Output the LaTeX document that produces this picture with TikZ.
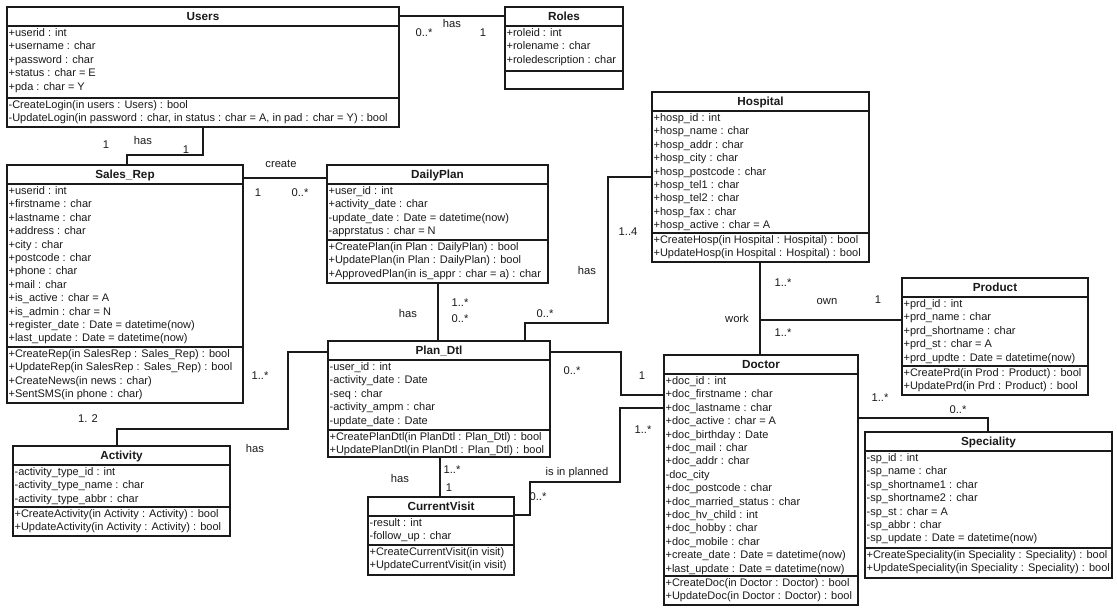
\documentclass[tikz,border=0pt]{standalone}
\usepackage{fontspec}
\setmainfont{Liberation Sans}
\usetikzlibrary{fit}
\definecolor{ink}{HTML}{1A1A1A}
\tikzset{
  px/.style={x=0.75pt,y=-0.75pt},
  classbox/.style={draw=ink, line width=1.1pt, inner sep=0pt},
  rule/.style={draw=ink, line width=1.0pt},
  classtitle/.style={font=\fontsize{8.8}{10}\selectfont\bfseries, anchor=base, inner sep=0pt, text=ink},
  members/.style={font=\fontsize{8.25}{10.05}\selectfont, align=left, anchor=north west, inner xsep=1.0pt, inner ysep=0pt, text=ink},
  assoc/.style={draw=ink, line width=1.2pt},
  lbl/.style={font=\fontsize{8.4}{10}\selectfont, inner sep=0pt, text=ink},
}
% #1 node name, #2 left, #3 right, #4 top, #5 operations rule, #6 bottom,
% #7 class name, #8 attributes, #9 operations
\newcommand\umlclass[9]{%
  \node[classbox, fit={(#2,#4) (#3,#6)}] (#1) {};
  \draw[rule] (#2,#4+19) -- (#3,#4+19);
  \draw[rule] (#2,#5) -- (#3,#5);
  \node[classtitle] (#1-title) at ({(#2+#3)/2},#4+13.8) {#7};
  \node[members] (#1-attrs) at (#2,#4+21.3) {#8};
  \node[members] (#1-ops) at (#2,#5+2.3) {#9};
}
\begin{document}
\begin{tikzpicture}[px]
\useasboundingbox[fill=white] (0,0) rectangle (1117,607);

% ---------- classes ----------
\umlclass{users}{7}{399}{7}{98}{127}{Users}
  {+userid : int\\+username : char\\+password : char\\+status : char = E\\+pda : char = Y}
  {-CreateLogin(in users : Users) : bool\\-UpdateLogin(in password : char, in status : char = A, in pad : char = Y) : bool}

\umlclass{roles}{505}{623}{7}{71}{89}{Roles}
  {+roleid : int\\+rolename : char\\+roledescription : char}
  {}

\umlclass{salesrep}{7}{243}{165}{347}{403}{Sales\_Rep}
  {+userid : int\\+firstname : char\\+lastname : char\\+address : char\\+city : char\\+postcode : char\\+phone : char\\+mail : char\\+is\_active : char = A\\+is\_admin : char = N\\+register\_date : Date = datetime(now)\\+last\_update : Date = datetime(now)}
  {+CreateRep(in SalesRep : Sales\_Rep) : bool\\+UpdateRep(in SalesRep : Sales\_Rep) : bool\\+CreateNews(in news : char)\\+SentSMS(in phone : char)}

\umlclass{dailyplan}{327}{548}{165}{240}{283}{DailyPlan}
  {+user\_id : int\\+activity\_date : char\\-update\_date : Date = datetime(now)\\-apprstatus : char = N}
  {+CreatePlan(in Plan : DailyPlan) : bool\\+UpdatePlan(in Plan : DailyPlan) : bool\\+ApprovedPlan(in is\_appr : char = a) : char}

\umlclass{hospital}{652}{869}{92}{233}{262}{Hospital}
  {+hosp\_id : int\\+hosp\_name : char\\+hosp\_addr : char\\+hosp\_city : char\\+hosp\_postcode : char\\+hosp\_tel1 : char\\+hosp\_tel2 : char\\+hosp\_fax : char\\+hosp\_active : char = A}
  {+CreateHosp(in Hospital : Hospital) : bool\\+UpdateHosp(in Hospital : Hospital) : bool}

\umlclass{product}{902}{1088}{278}{366}{395}{Product}
  {+prd\_id : int\\+prd\_name : char\\+prd\_shortname : char\\+prd\_st : char = A\\+prd\_updte : Date = datetime(now)}
  {+CreatePrd(in Prod : Product) : bool\\+UpdatePrd(in Prd : Product) : bool}

\umlclass{plandtl}{328}{550}{341}{430}{457}{Plan\_Dtl}
  {-user\_id : int\\-activity\_date : Date\\-seq : char\\-activity\_ampm : char\\-update\_date : Date}
  {+CreatePlanDtl(in PlanDtl : Plan\_Dtl) : bool\\+UpdatePlanDtl(in PlanDtl : Plan\_Dtl) : bool}

\umlclass{doctor}{664}{858}{355}{576}{605}{Doctor}
  {+doc\_id : int\\+doc\_firstname : char\\+doc\_lastname : char\\+doc\_active : char = A\\+doc\_birthday : Date\\+doc\_mail : char\\+doc\_addr : char\\-doc\_city\\+doc\_postcode : char\\+doc\_married\_status : char\\+doc\_hv\_child : int\\+doc\_hobby : char\\+doc\_mobile : char\\+create\_date : Date = datetime(now)\\+last\_update : Date = datetime(now)}
  {+CreateDoc(in Doctor : Doctor) : bool\\+UpdateDoc(in Doctor : Doctor) : bool}

\umlclass{activity}{13}{230}{446}{507}{536}{Activity}
  {-activity\_type\_id : int\\-activity\_type\_name : char\\-activity\_type\_abbr : char}
  {+CreateActivity(in Activity : Activity) : bool\\+UpdateActivity(in Activity : Activity) : bool}

\umlclass{currentvisit}{368}{514}{497}{545}{575}{CurrentVisit}
  {-result : int\\-follow\_up : char}
  {+CreateCurrentVisit(in visit)\\+UpdateCurrentVisit(in visit)}

\umlclass{speciality}{865}{1112}{432}{548}{578}{Speciality}
  {-sp\_id : int\\-sp\_name : char\\-sp\_shortname1 : char\\-sp\_shortname2 : char\\-sp\_st : char = A\\-sp\_abbr : char\\-sp\_update : Date = datetime(now)}
  {+CreateSpeciality(in Speciality : Speciality) : bool\\+UpdateSpeciality(in Speciality : Speciality) : bool}

% ---------- associations ----------
\draw[assoc] (users.east |- 0,16) -- (roles.west |- 0,16);
\draw[assoc] (users.south -| 203,0) |- (127,155) -- (salesrep.north -| 127,0);
\draw[assoc] (salesrep.east |- 0,178) -- (dailyplan.west |- 0,178);
\draw[assoc] (dailyplan.south -| 438,0) -- (plandtl.north -| 438,0);
\draw[assoc] (hospital.west |- 0,177) -| (608,323) -| (plandtl.north -| 525,0);
\draw[assoc] (hospital.south -| 760,0) -- (doctor.north -| 760,0);
\coordinate (ownjoint) at (760,320);
\draw[assoc] (ownjoint) -- (product.west |- ownjoint);
\draw[assoc] (plandtl.east |- 0,352) -| (621,395) -- (doctor.west |- 0,395);
\draw[assoc] (doctor.west |- 0,408) -| (620,482) -| (530,515) -- (currentvisit.east |- 0,515);
\draw[assoc] (plandtl.south -| 440,0) -- (currentvisit.north -| 440,0);
\draw[assoc] (activity.north -| 117,0) |- (288,429) |- (plandtl.west |- 0,352);
\draw[assoc] (doctor.east |- 0,418) -| (speciality.north -| 988,0);

% ---------- association labels ----------
\node[lbl] (ur-name) at (452,23) {has};
\node[lbl] (ur-a) at (424,33) {0..*};
\node[lbl] (ur-b) at (483,33) {1};

\node[lbl] (us-a) at (106,145) {1};
\node[lbl] (us-name) at (143,140) {has};
\node[lbl] (us-b) at (186,150) {1};

\node[lbl] (sd-name) at (281,164) {create};
\node[lbl] (sd-a) at (258,193) {1};
\node[lbl] (sd-b) at (300,193) {0..*};

\node[lbl] (dp-name) at (408,313) {has};
\node[lbl] (dp-a) at (460,303) {1..*};
\node[lbl] (dp-b) at (460,319) {0..*};

\node[lbl] (hp-a) at (628,232) {1..4};
\node[lbl] (hp-name) at (587,270) {has};
\node[lbl] (hp-b) at (545,314) {0..*};

\node[lbl] (hd-a) at (783,283) {1..*};
\node[lbl] (hd-b) at (783,333) {1..*};
\node[lbl] (hd-name) at (737,318) {work};
\node[lbl] (op-name) at (827,302) {own};
\node[lbl] (op-b) at (878,300) {1};

\node[lbl] (pd-a) at (572,371) {0..*};
\node[lbl] (pd-b) at (642,376) {1};

\node[lbl] (dc-a) at (643,430) {1..*};
\node[lbl] (dc-name) at (577,473) {is in planned};
\node[lbl] (dc-b) at (538,497) {0..*};

\node[lbl] (pc-name) at (400,478) {has};
\node[lbl] (pc-a) at (452,470) {1..*};
\node[lbl] (pc-b) at (449,488) {1};

\node[lbl] (ap-a) at (88,419) {1. 2};
\node[lbl] (ap-name) at (255,448) {has};
\node[lbl] (ap-b) at (260,376) {1..*};

\node[lbl] (ds-a) at (880,398) {1..*};
\node[lbl] (ds-b) at (958,410) {0..*};
\end{tikzpicture}
\end{document}
